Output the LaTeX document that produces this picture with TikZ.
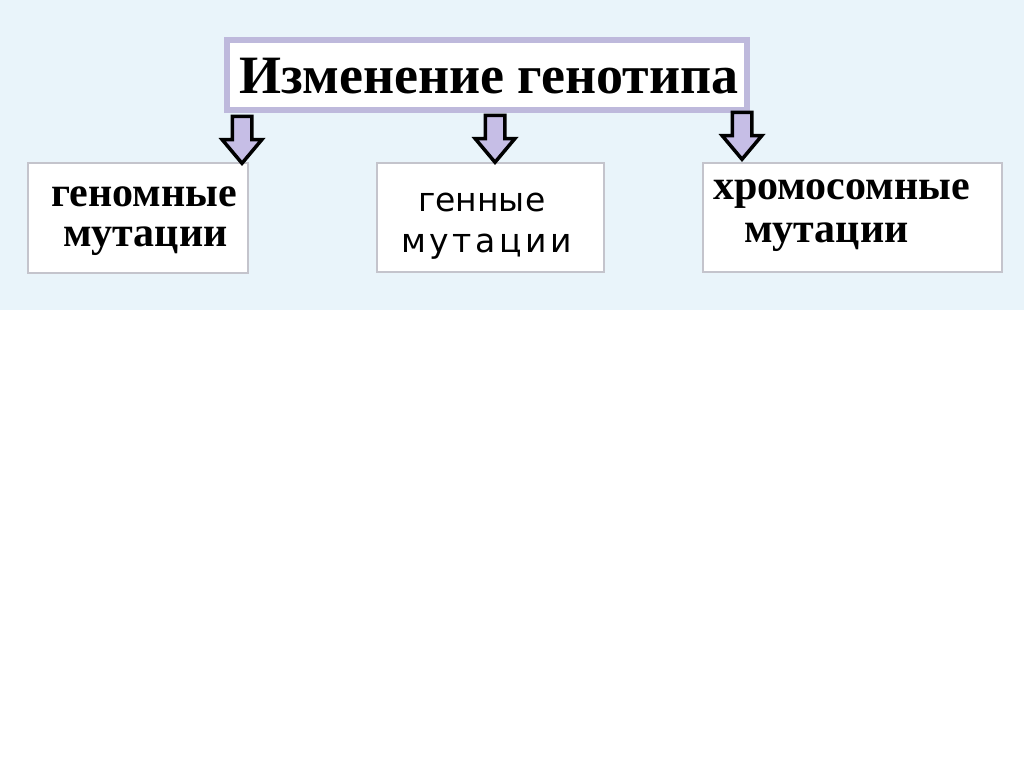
\documentclass[tikz,border=0pt]{standalone}
\usepackage{fontspec}
\setmainfont{Liberation Serif}
\newfontfamily\vsans{DejaVu Sans}
\usetikzlibrary{shapes.arrows}
\definecolor{bgblue}{HTML}{E9F4FA}
\definecolor{frameviolet}{HTML}{BEB9DC}
\definecolor{boxgray}{HTML}{C4C4CC}
\definecolor{arrowfill}{HTML}{C6BEE6}
\newcommand{\lsp}{\hspace{3.6pt}}
\tikzset{
  px/.style={x=1pt,y=-1pt},
  subbox/.style={draw=boxgray,line width=2pt,fill=white,inner sep=0pt},
  titlebox/.style={draw=frameviolet,line width=6pt,fill=white,inner sep=0pt},
  downarrow/.style={single arrow,draw=black,fill=arrowfill,line width=3.5pt,
    shape border rotate=270,minimum height=47pt,
    single arrow head extend=10pt,single arrow tip angle=80,inner sep=8pt,anchor=tip},
  boldtxt/.style={font=\bfseries\fontsize{42}{46}\selectfont,inner sep=0pt,anchor=base west},
  sanstxt/.style={font=\vsans\fontsize{33}{36}\selectfont,inner sep=0pt,anchor=base west},
}
\begin{document}
\begin{tikzpicture}[px]
\useasboundingbox (0,0) rectangle (1024,767);
\fill[white] (0,0) rectangle (1024,767);
\fill[bgblue] (0,0) rectangle (1024,310);
% title
\node[titlebox,minimum width=520pt,minimum height=70pt] (top) at (487,75) {};
\node[font=\bfseries\fontsize{54}{58}\selectfont,inner sep=0pt,anchor=base] (toptxt) at (489,94) {Изменение генотипа};
% boxes
\node[subbox,minimum width=220pt,minimum height=110pt] (b1) at (138,218) {};
\node[subbox,minimum width=227pt,minimum height=109pt] (b2) at (490.5,217.5) {};
\node[subbox,minimum width=299pt,minimum height=109pt] (b3) at (852.5,217.5) {};
% texts
\node[boldtxt] (t1a) at (51,207) {геномные};
\node[boldtxt] (t1b) at (63,247) {мутации};
\node[sanstxt] (t2a) at (418,212) {генные};
\node[sanstxt] (t2b) at (401,252) {м\lsp у\lsp т\lsp а\lsp ц\lsp и\lsp и};
\node[boldtxt] (t3a) at (713,200) {хромосомные};
\node[boldtxt] (t3b) at (744,242) {мутации};
% arrows
\coordinate (a1) at (242,166);
\coordinate (a2) at (495,165);
\coordinate (a3) at (742,162);
\node[downarrow] (ar1) at (a1) {};
\node[downarrow] (ar2) at (a2) {};
\node[downarrow] (ar3) at (a3) {};
\end{tikzpicture}
\end{document}
